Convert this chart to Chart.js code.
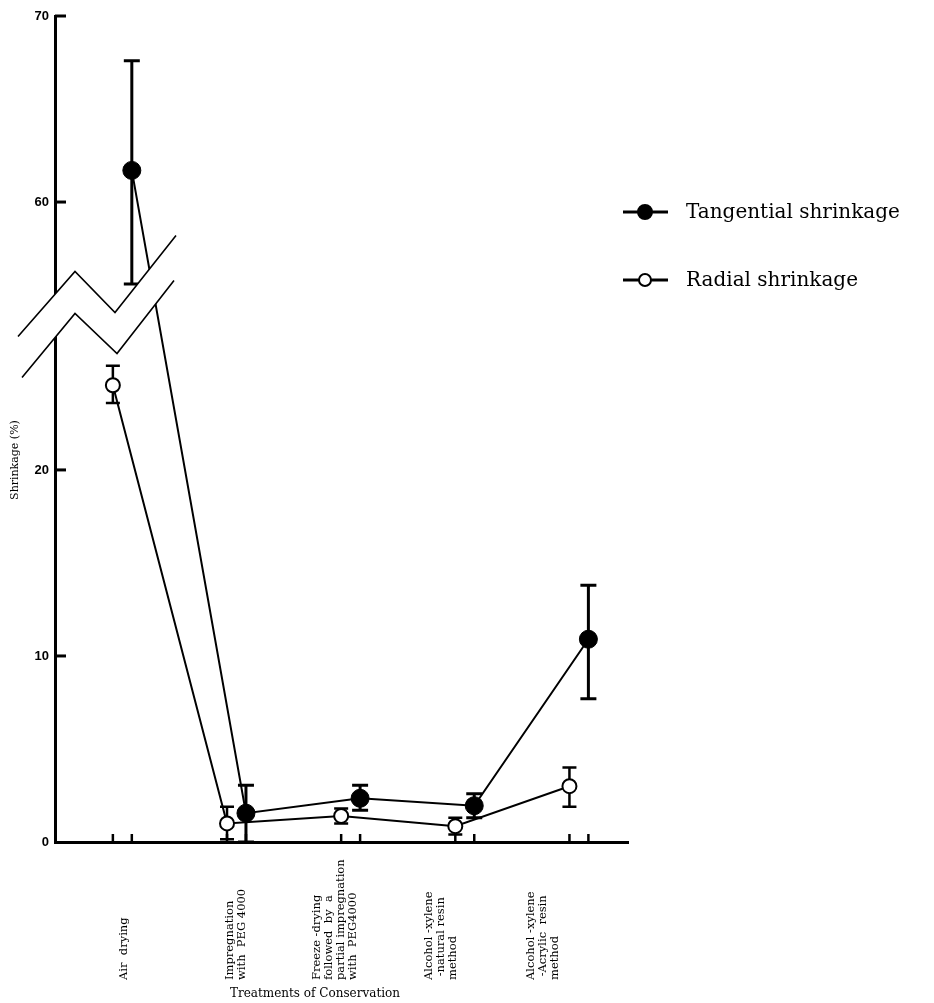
<!DOCTYPE html>
<html>
<head>
<meta charset="utf-8">
<script src="https://cdn.jsdelivr.net/npm/chart.js@4/dist/chart.umd.min.js"></script>
<style>
  body { margin: 0; background: #fff; }
  canvas { display: block; }
</style>
</head>
<body>
<canvas id="chart" width="934" height="1003"></canvas>
<script>
// treatments, one array of text lines per category
const categories = [
  ['Air  drying'],
  ['Impregnation', 'with  PEG 4000'],
  ['Freeze -drying', 'followed  by  a', 'partial impregnation', 'with  PEG4000'],
  ['Alcohol -xylene', ' -natural resin', 'method'],
  ['Alcohol -xylene', ' -Acrylic  resin', 'method'],
];

// shrinkage (%) with error bar ends
const tangential = [61.7, 1.55, 2.35, 1.95, 10.9];
const tangentialLow = [55.6, 0, 1.7, 1.3, 7.7];
const tangentialHigh = [67.6, 3.05, 3.05, 2.6, 13.8];

const radial = [24.55, 1.0, 1.4, 0.85, 3.0];
const radialLow = [23.6, 0.15, 1.0, 0.4, 1.9];
const radialHigh = [25.6, 1.9, 1.8, 1.3, 4.0];

const yTicks = [0, 10, 20, 60, 70];

// broken axis: values above the break are pulled down by SHIFT
const BREAK_VALUE = 40;
const SHIFT = 25.6;
const toPlot = (v) => (v > BREAK_VALUE ? v - SHIFT : v);

const OFFSET = 0.083; // radial left, tangential right of each treatment
const LABEL_NUDGE = [2, 0, -16, -24, -36];
const BREAK_AT = 28.3;

const serif = '"DejaVu Serif", "Liberation Serif", serif';

const points = (vals, dx) => vals.map((v, i) => ({ x: i + dx, y: toPlot(v) }));

const bars = [
  { low: tangentialLow, high: tangentialHigh, dx: OFFSET, width: 3, cap: 8 },
  { low: radialLow, high: radialHigh, dx: -OFFSET, width: 2.5, cap: 7 },
];

const errorBars = {
  id: 'errorBars',
  beforeDatasetsDraw(chart) {
    const { ctx, scales: { x, y } } = chart;
    ctx.save();
    ctx.strokeStyle = '#000';
    bars.forEach((b) => {
      ctx.lineWidth = b.width;
      b.low.forEach((lo, i) => {
        const px = x.getPixelForValue(i + b.dx);
        const y1 = y.getPixelForValue(toPlot(lo));
        const y2 = y.getPixelForValue(toPlot(b.high[i]));
        ctx.beginPath();
        ctx.moveTo(px, y1); ctx.lineTo(px, y2);
        ctx.moveTo(px - b.cap, y1); ctx.lineTo(px + b.cap, y1);
        ctx.moveTo(px - b.cap, y2); ctx.lineTo(px + b.cap, y2);
        ctx.stroke();
      });
    });
    ctx.restore();
  },
};

const decor = {
  id: 'decor',
  afterDatasetsDraw(chart) {
    const { ctx, chartArea: a, scales: { x, y } } = chart;
    ctx.save();
    ctx.strokeStyle = '#000';
    ctx.lineCap = 'butt';

    // inward y ticks
    ctx.lineWidth = 3;
    yTicks.slice(1).forEach((v) => {
      const py = y.getPixelForValue(toPlot(v));
      ctx.beginPath();
      ctx.moveTo(a.left, py); ctx.lineTo(a.left + 11, py);
      ctx.stroke();
    });

    // upward x ticks, one per series
    ctx.lineWidth = 2.5;
    categories.forEach((c, i) => {
      [-OFFSET, OFFSET].forEach((dx) => {
        const px = x.getPixelForValue(i + dx);
        ctx.beginPath();
        ctx.moveTo(px, a.bottom); ctx.lineTo(px, a.bottom - 8);
        ctx.stroke();
      });
    });

    // axis break symbol
    const bx = a.left;
    const by = y.getPixelForValue(BREAK_AT);
    const upper = [[-37, 21], [20, -44], [60, -3], [121, -80]];
    const lower = [[-33, 62], [20, -2], [62, 38], [119, -35]];
    ctx.fillStyle = '#fff';
    ctx.beginPath();
    upper.forEach(([dx, dy], k) => (k ? ctx.lineTo(bx + dx, by + dy) : ctx.moveTo(bx + dx, by + dy)));
    lower.slice().reverse().forEach(([dx, dy]) => ctx.lineTo(bx + dx, by + dy));
    ctx.closePath();
    ctx.fill();
    ctx.lineWidth = 1.6;
    ctx.lineJoin = 'miter';
    [upper, lower].forEach((zz) => {
      ctx.beginPath();
      zz.forEach(([dx, dy], k) => (k ? ctx.lineTo(bx + dx, by + dy) : ctx.moveTo(bx + dx, by + dy)));
      ctx.stroke();
    });
    ctx.restore();
  },
  afterDraw(chart) {
    const { ctx, scales: { x } } = chart;
    ctx.save();
    ctx.fillStyle = '#000';

    // category labels, rotated, starting from the bottom
    ctx.font = '11.5px ' + serif;
    ctx.textAlign = 'left';
    ctx.textBaseline = 'middle';
    categories.forEach((lines, i) => {
      const cx = x.getPixelForValue(i) + LABEL_NUDGE[i] - (lines.length - 1) * 6;
      lines.forEach((line, k) => {
        ctx.save();
        ctx.translate(cx + k * 12, 980);
        ctx.rotate(-Math.PI / 2);
        ctx.fillText(line, 0, 0);
        ctx.restore();
      });
    });

    // axis titles
    ctx.font = '12px ' + serif;
    ctx.textAlign = 'center';
    ctx.fillText('Treatments of Conservation', 315, 994);
    ctx.save();
    ctx.font = '11px ' + serif;
    ctx.translate(15, 460);
    ctx.rotate(-Math.PI / 2);
    ctx.fillText('Shrinkage (%)', 0, 0);
    ctx.restore();

    // legend
    const rows = [212, 280];
    chart.data.datasets.forEach((ds, k) => {
      const ly = rows[k];
      ctx.lineWidth = 3;
      ctx.strokeStyle = '#000';
      ctx.beginPath();
      ctx.moveTo(623, ly); ctx.lineTo(668, ly);
      ctx.stroke();
      ctx.beginPath();
      ctx.arc(645, ly, k ? 6 : 7, 0, Math.PI * 2);
      ctx.fillStyle = ds.pointBackgroundColor;
      ctx.fill();
      ctx.lineWidth = 2;
      ctx.stroke();
      ctx.fillStyle = '#000';
      ctx.font = '20px ' + serif;
      ctx.textAlign = 'left';
      ctx.textBaseline = 'middle';
      ctx.fillText(ds.label, 686, ly + 1);
    });
    ctx.restore();
  },
};

new Chart(document.getElementById('chart'), {
  type: 'line',
  data: {
    datasets: [
      {
        label: 'Tangential shrinkage',
        data: points(tangential, OFFSET),
        borderColor: '#000',
        borderWidth: 2,
        pointRadius: 9,
        pointBackgroundColor: '#000',
        pointBorderColor: '#000',
        pointBorderWidth: 1,
        clip: false,
      },
      {
        label: 'Radial shrinkage',
        data: points(radial, -OFFSET),
        borderColor: '#000',
        borderWidth: 2,
        pointRadius: 7,
        pointBackgroundColor: '#fff',
        pointBorderColor: '#000',
        pointBorderWidth: 2,
        clip: false,
      },
    ],
  },
  options: {
    responsive: false,
    animation: false,
    devicePixelRatio: 1,
    layout: { padding: { top: 16, right: 306, left: 0, bottom: 0 } },
    plugins: { legend: { display: false }, tooltip: { enabled: false } },
    scales: {
      x: {
        type: 'linear',
        min: -0.59,
        max: 4.43,
        grid: { display: false },
        ticks: { display: false },
        border: { display: true, color: '#000', width: 3 },
        afterFit(s) { s.height = 161; },
      },
      y: {
        type: 'linear',
        min: 0,
        max: toPlot(70),
        grid: { display: false, drawTicks: false },
        border: { display: true, color: '#000', width: 3 },
        afterBuildTicks(s) { s.ticks = yTicks.map((v) => ({ value: toPlot(v) })); },
        ticks: {
          autoSkip: false,
          padding: 6,
          color: '#000',
          font: { family: '"Liberation Sans", sans-serif', size: 13, weight: 'bold' },
          callback: (v, i) => String(yTicks[i]),
        },
        afterFit(s) { s.width = 55; },
      },
    },
  },
  plugins: [errorBars, decor],
});
</script>
</body>
</html>
